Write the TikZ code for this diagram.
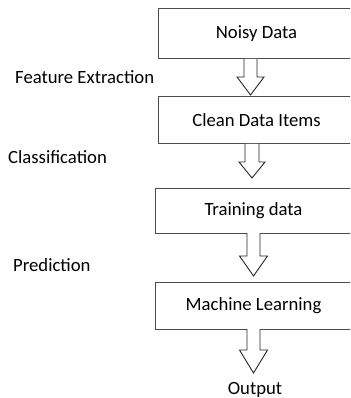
\documentclass[tikz,border=0pt]{standalone}
\usepackage{fontspec}
\setmainfont{Carlito}
\begin{document}
\begin{tikzpicture}[x=1pt,y=-1pt,
  box/.style={draw=black!70, line width=1pt, minimum width=196pt, inner sep=0pt, anchor=west, font=\fontsize{18.7}{22}\selectfont},
  lbl/.style={anchor=west, inner sep=0pt, font=\fontsize{18.7}{22}\selectfont},
  blk/.style={draw=black!85, line width=0.9pt, fill=white, line join=miter}]
\useasboundingbox (0,0) rectangle (350,398);
\clip (0,0) rectangle (350,398);
\newcommand\blkarrow[5]{% cx, top, sw, hw, shaftend, tip via #5
  \draw[blk] (#1-#3,#2) -- (#1-#3,#5) -- (#1-#4,#5) -- (#1,\tipy) -- (#1+#4,#5) -- (#1+#3,#5) -- (#1+#3,#2);}
\node[box, minimum height=50pt] (n1) at (158,34) {Noisy Data};
\node[box, minimum height=47pt] (n2) at (158,120.5) {Clean Data Items};
\node[box, minimum height=45pt] (n3) at (155,210.5) {Training data};
\node[box, minimum height=47pt] (n4) at (155,305.5) {Machine Learning};
\node[lbl] (l1) at (15,77) {Feature Extraction};
\node[lbl] (l2) at (8,157) {Classification};
\node[lbl] (l3) at (13,265) {Prediction};
\node[font=\fontsize{18.7}{22}\selectfont, inner sep=0pt] (out) at (255,390) {Output};
\def\tipy{95}\blkarrow{250.5}{59}{6.5}{13.5}{77}{}
\def\tipy{178}\blkarrow{252}{144}{7}{13}{162}{}
\def\tipy{276}\blkarrow{253.5}{233}{6.5}{14}{256}{}
\def\tipy{373}\blkarrow{253.5}{329}{6.5}{14}{350}{}
\end{tikzpicture}
\end{document}
